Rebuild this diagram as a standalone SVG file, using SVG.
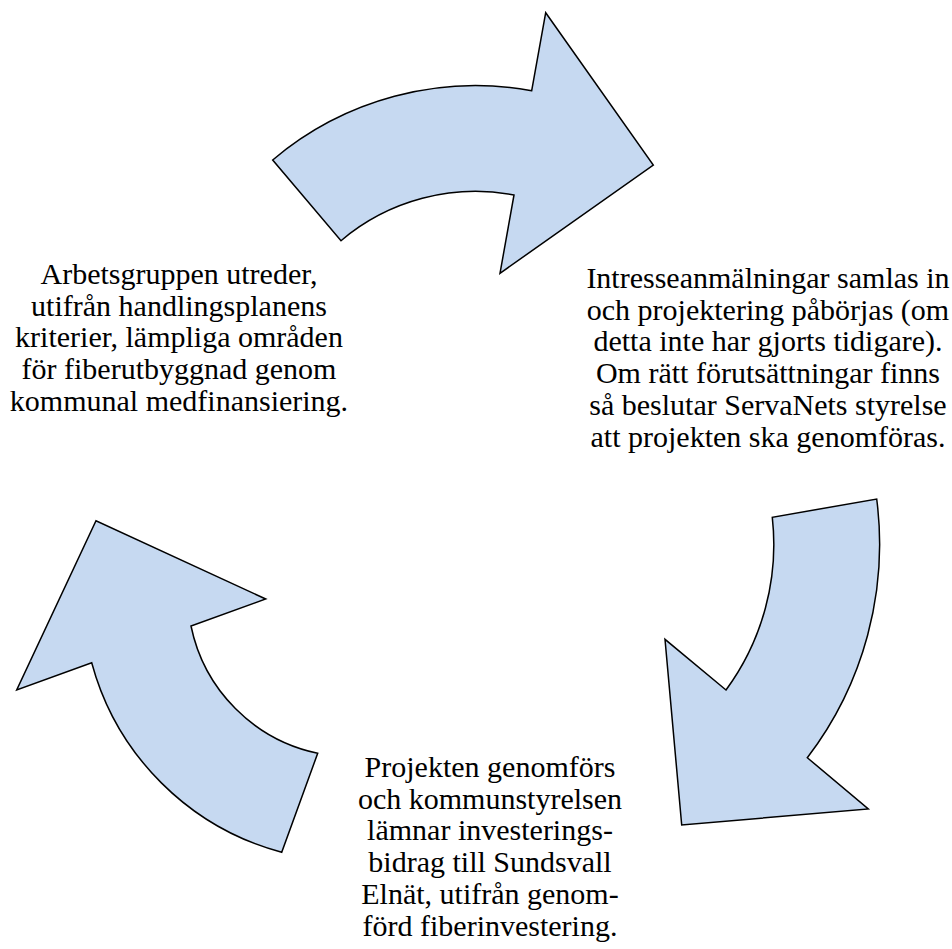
<svg xmlns="http://www.w3.org/2000/svg" width="952" height="949" viewBox="0 0 952 949">
  <style>
    .arrow { fill: #C6D9F1; stroke: #000000; stroke-width: 1.5; stroke-linejoin: miter; }
    .lbl { font-family: "Liberation Serif", "Times New Roman", serif; font-size: 30px; fill: #000000; text-anchor: middle; }
  </style>
  <rect x="0" y="0" width="952" height="949" fill="#FFFFFF"/>
  <g id="connectors">
    <path id="arrow-top" class="arrow" d="M272.7,160 A314.3,314.3 0 0 1 531.7,90.7 L545.7,12.7 L653.3,165 L500,273.3 L514,195 A208.5,208.5 0 0 0 341,240.7 Z"/>
    <path id="arrow-right" class="arrow" d="M876.7,499 A351.4,351.4 0 0 1 807.3,757.7 L868.3,809 L681.7,825 L665,639.3 L726,690 A245.7,245.7 0 0 0 772.3,517.3 Z"/>
    <path id="arrow-left" class="arrow" d="M281.7,852.3 A269,269 0 0 1 91.7,662.7 L16.7,690 L96,520.7 L265.7,599 L191,626 A164,164 0 0 0 317.7,753.3 Z"/>
  </g>
  <g id="node-left">
    <text class="lbl" x="179" y="284">Arbetsgruppen utreder,</text>
    <text class="lbl" x="179" y="315.7">utifrån handlingsplanens</text>
    <text class="lbl" x="179" y="347.4">kriterier, lämpliga områden</text>
    <text class="lbl" x="179" y="379.1">för fiberutbyggnad genom</text>
    <text class="lbl" x="179" y="410.8">kommunal medfinansiering.</text>
  </g>
  <g id="node-right">
    <text class="lbl" x="768" y="288">Intresseanmälningar samlas in</text>
    <text class="lbl" x="768" y="319.7">och projektering påbörjas (om</text>
    <text class="lbl" x="768" y="351.4">detta inte har gjorts tidigare).</text>
    <text class="lbl" x="768" y="383.1">Om rätt förutsättningar finns</text>
    <text class="lbl" x="768" y="414.8">så beslutar ServaNets styrelse</text>
    <text class="lbl" x="768" y="446.5">att projekten ska genomföras.</text>
  </g>
  <g id="node-bottom">
    <text class="lbl" x="490" y="777">Projekten genomförs</text>
    <text class="lbl" x="490" y="808.7">och kommunstyrelsen</text>
    <text class="lbl" x="490" y="840.4">lämnar investerings-</text>
    <text class="lbl" x="490" y="872.1">bidrag till Sundsvall</text>
    <text class="lbl" x="490" y="903.8">Elnät, utifrån genom-</text>
    <text class="lbl" x="490" y="935.5">förd fiberinvestering.</text>
  </g>
</svg>
